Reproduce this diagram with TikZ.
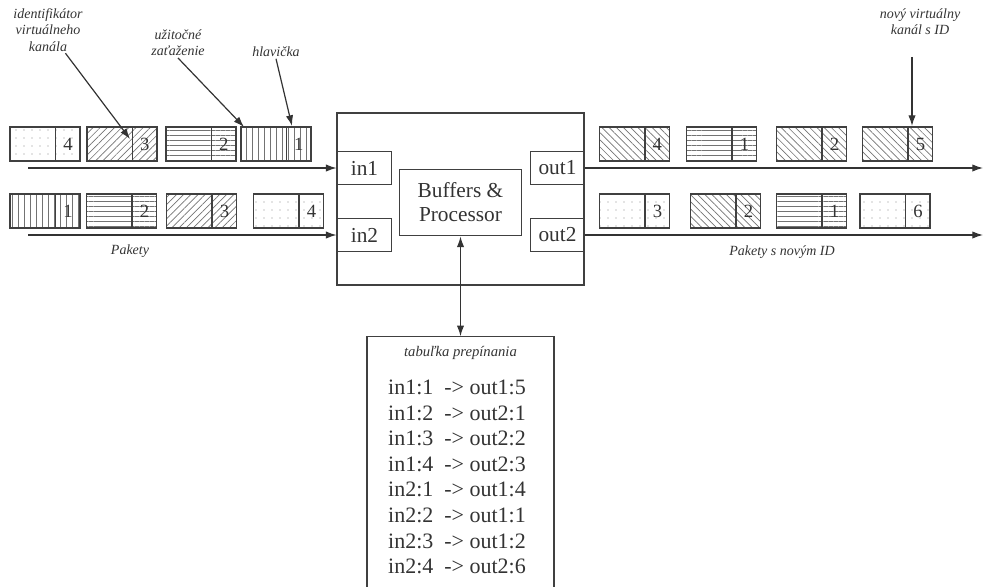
\documentclass[tikz,border=0pt]{standalone}
\usepackage{fontspec}
\setmainfont{Liberation Serif}
\usetikzlibrary{patterns.meta,arrows.meta}
\tikzset{
dotfill/.style={pattern={Dots[distance=6pt,radius=0.4pt]},pattern color=black!45},
nefill/.style={pattern={Lines[angle=45,distance=3.8pt,line width=0.5pt]},pattern color=black!55},
nwfill/.style={pattern={Lines[angle=-45,distance=3.8pt,line width=0.5pt]},pattern color=black!55},
hfill/.style={pattern={Lines[angle=0,distance=3.8pt,line width=0.5pt]},pattern color=black!55},
vfill/.style={pattern={Lines[angle=90,distance=4.5pt,line width=0.5pt]},pattern color=black!55},
pkt/.style={draw=black!75,line width=0.8pt,minimum width=52.5pt,minimum height=25.5pt,inner sep=0pt},
pktid/.style={font=\fontsize{14}{16}\selectfont,text=black!80,inner sep=0pt},
note/.style={font=\fontsize{10.5}{12.3}\selectfont\itshape,text=black!80,align=center,inner sep=1pt},
port/.style={draw=black!75,line width=0.9pt,minimum width=41pt,minimum height=25pt,inner sep=0pt,font=\fontsize{16}{18}\selectfont,text=black!80},
wire/.style={draw=black!80,line width=0.9pt,-{Latex[length=8pt,width=5.5pt]}},
}
\tikzset{every picture/.style={line width=0.75pt}}

\begin{document}
\begin{tikzpicture}[x=0.75pt,y=0.75pt,yscale=-1,xscale=1]
\useasboundingbox (0,0) rectangle (984,586);

%Switch and its ports
\node[port, minimum width=185.25pt, minimum height=129pt] (sw) at (460.5,199) {};
\node[port] (in1) at (364.5,168) {in1};
\node[port] (in2) at (364.5,235) {in2};
\node[port, minimum width=40pt] (out1) at (557.5,168) {out1};
\node[port, minimum width=40pt] (out2) at (557.5,235) {out2};
\node[port, minimum width=92pt, minimum height=50pt, align=center] (buf) at (460.5,202.5) {Buffers \&\\Processor};

%Switching table
\node[port, minimum width=140.25pt, minimum height=190pt] (tab) at (460.5,463.5) {};
\node[note, font=\fontsize{11}{13}\selectfont\itshape] (tabtitle) at (460.5,353) {tabuľka prepínania};
\node[font=\fontsize{16.5}{19.2}\selectfont, text=black!80, align=left] (rows) at (457,477)
  {in1:1 \ -> out1:5\\in1:2 \ -> out2:1\\in1:3 \ -> out2:2\\in1:4 \ -> out2:3\\
   in2:1 \ -> out1:4\\in2:2 \ -> out1:1\\in2:3 \ -> out1:2\\in2:4 \ -> out2:6};
\draw[wire, {Latex[length=8pt,width=5.5pt]}-{Latex[length=8pt,width=5.5pt]}] (tab.north) -- (buf.south);

%Incoming packets
\foreach \x/\pat/\id [count=\i] in {45/dotfill/4, 122/nefill/3, 201/hfill/2, 276/vfill/1}
{
  \node[pkt, \pat] (a\i) at (\x,144) {};
  \draw[black!75, line width=1pt] ([xshift=-18.75pt]a\i.north east) -- ([xshift=-18.75pt]a\i.south east);
  \node[pktid] at ([xshift=-9.4pt]a\i.east) {\id};
}
\foreach \x/\pat/\id [count=\i] in {45/vfill/1, 121.5/hfill/2, 201.5/nefill/3, 288.5/dotfill/4}
{
  \node[pkt, \pat] (b\i) at (\x,211) {};
  \draw[black!75, line width=1pt] ([xshift=-18.75pt]b\i.north east) -- ([xshift=-18.75pt]b\i.south east);
  \node[pktid] at ([xshift=-9.4pt]b\i.east) {\id};
}
\coordinate (src1) at (28,168);
\coordinate (src2) at (28,235);
\draw[wire] (src1) -- (in1);
\draw[wire] (src2) -- (in2);
\node[note] (pakety) at (130,251) {Pakety};

%Outgoing packets
\foreach \x/\pat/\id [count=\i] in {634.5/nwfill/4, 721.5/hfill/1, 811.5/nwfill/2, 897.5/nwfill/5}
{
  \node[pkt, \pat] (c\i) at (\x,144) {};
  \draw[black!75, line width=1pt] ([xshift=-18.75pt]c\i.north east) -- ([xshift=-18.75pt]c\i.south east);
  \node[pktid] at ([xshift=-9.4pt]c\i.east) {\id};
}
\foreach \x/\pat/\id [count=\i] in {634.5/dotfill/3, 725.5/nwfill/2, 811.5/hfill/1, 895/dotfill/6}
{
  \node[pkt, \pat] (d\i) at (\x,211) {};
  \draw[black!75, line width=1pt] ([xshift=-18.75pt]d\i.north east) -- ([xshift=-18.75pt]d\i.south east);
  \node[pktid] at ([xshift=-9.4pt]d\i.east) {\id};
}
\coordinate (dst1) at (983,168);
\coordinate (dst2) at (983,235);
\draw[wire] (out1) -- (dst1);
\draw[wire] (out2) -- (dst2);
\node[note] (paketyid) at (782,252) {Pakety s novým ID};

%Labels
\node[note] (idtxt) at (48,30) {identifikátor\\virtuálneho\\kanála};
\node[note] (ppltxt) at (178,43) {užitočné\\zaťaženie};
\node[note] (hdrtxt) at (276,52) {hlavička};
\node[note] (newtxt) at (920,22) {nový virtuálny\\kanál s ID};
\coordinate (idtip) at (130,139);
\coordinate (ppltip) at (244,127);
\coordinate (hdrtip) at (292,126);
\coordinate (newtip) at (912,126);
\draw[wire] (idtxt) -- (idtip);
\draw[wire] (ppltxt.south) -- (ppltip);
\draw[wire] (hdrtxt.south) -- (hdrtip);
\draw[wire, shorten <=15pt] (newtxt.south -| newtip) -- (newtip);

\end{tikzpicture}
\end{document}
